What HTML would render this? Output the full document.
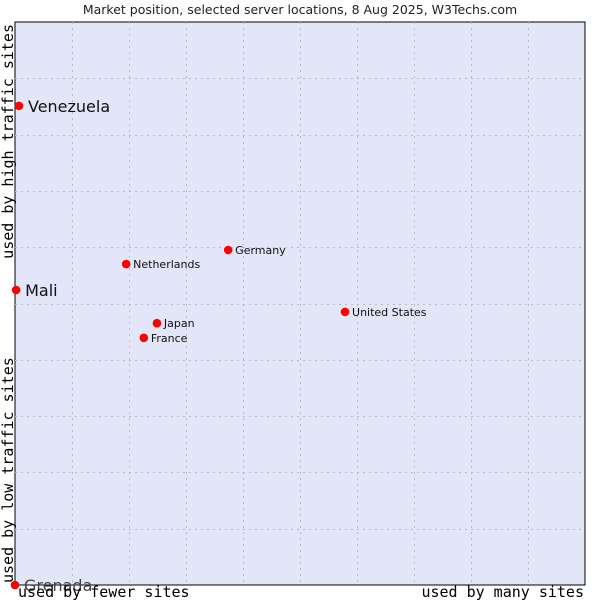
<!DOCTYPE html>
<html><head><meta charset="utf-8"><style>
body{margin:0;background:#fff;width:600px;height:600px;overflow:hidden}
svg{display:block}
</style></head><body>
<svg id="chart" width="600" height="600" xmlns="http://www.w3.org/2000/svg">
<text x="300" y="14" text-anchor="middle" font-family="DejaVu Sans, sans-serif" font-size="12.5" fill="#222">Market position, selected server locations, 8 Aug 2025, W3Techs.com</text>
<rect x="15" y="22" width="570" height="563" fill="#e3e5f8" stroke="#000" stroke-width="1"/>
<g id="grid"></g>
<g id="points"></g>
<text x="18" y="597" font-family="DejaVu Sans Mono, monospace" font-size="15" fill="#000">used by fewer sites</text>
<text x="584" y="597" text-anchor="end" font-family="DejaVu Sans Mono, monospace" font-size="15" fill="#000">used by many sites</text>
<text transform="translate(13,24) rotate(-90)" text-anchor="end" font-family="DejaVu Sans Mono, monospace" font-size="15" fill="#000">used by high traffic sites</text>
<text transform="translate(13,583) rotate(-90)" font-family="DejaVu Sans Mono, monospace" font-size="15" fill="#000">used by low traffic sites</text>
</svg>
<script>
const names = ["Venezuela","Mali","Grenada","Netherlands","Germany","Japan","France","United States"];
const xValues = [0.7,0.2,0,19.5,37.4,24.9,22.6,57.9];
const yValues = [85.1,52.4,0,57.0,59.5,46.5,43.9,48.5];
const bigLabel = [true,true,true,false,false,false,false,false];
const NS="http://www.w3.org/2000/svg";
const X0=15,X1=585,Y0=585,Y1=22;
function xs(v){return X0+(X1-X0)*v/100;}
function ys(v){return Y0-(Y0-Y1)*v/100;}
const grid=document.getElementById('grid');
for(let i=1;i<10;i++){
  let l=document.createElementNS(NS,'line');
  
  
  const x=Math.round(xs(i*10))+0.5;
  l.setAttribute('x1',x);l.setAttribute('x2',x);l.setAttribute('y1',Y1);l.setAttribute('y2',Y0);
  l.setAttribute('stroke','#bbb');l.setAttribute('stroke-dasharray','2,4');grid.appendChild(l);
  let h=document.createElementNS(NS,'line');
  
  
  const y=Math.round(ys(i*10))+0.5;
  h.setAttribute('x1',X0);h.setAttribute('x2',X1);h.setAttribute('y1',y);h.setAttribute('y2',y);
  h.setAttribute('stroke','#bbb');h.setAttribute('stroke-dasharray','2,4');grid.appendChild(h);
}
const pts=document.getElementById('points');
names.forEach((n,i)=>{
  const cx=xs(xValues[i]),cy=ys(yValues[i]);
  const c=document.createElementNS(NS,'circle');
  
  
  c.setAttribute('cx',cx);c.setAttribute('cy',cy);c.setAttribute('r',4.3);c.setAttribute('fill','#f00');
  pts.appendChild(c);
  const t=document.createElementNS(NS,'text');
  
  
  t.setAttribute('x',cx+(bigLabel[i]?9:7));
  t.setAttribute('y',cy+(bigLabel[i]?6:4));
  t.setAttribute('font-family','DejaVu Sans, sans-serif');
  t.setAttribute('font-size',bigLabel[i]?16:11);
  t.setAttribute('fill',n==="Grenada"?'#444':'#111');
  t.textContent=n;
  pts.appendChild(t);
});
</script>
</body></html>
